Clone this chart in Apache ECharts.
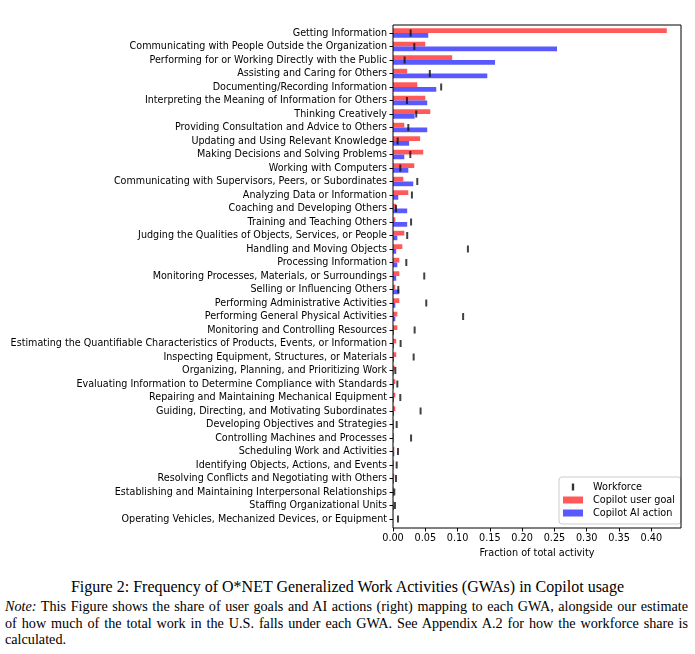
<!DOCTYPE html>
<html><head><meta charset="utf-8">
<script src="https://cdn.jsdelivr.net/npm/echarts@6/dist/echarts.min.js"></script>
<style>
html,body{margin:0;padding:0;background:#fff;width:695px;height:654px;overflow:hidden;}
#chart{position:absolute;left:0;top:0;width:695px;height:570px;}
.cap{position:absolute;font-family:"Liberation Serif","DejaVu Serif",serif;color:#000;}
#title{left:0;width:695px;top:578px;text-align:center;font-size:16px;}
.nl{left:5px;width:683px;font-size:14.2px;text-align:justify;text-align-last:justify;white-space:nowrap;}
</style></head>
<body>
<div id="chart"></div>
<div class="cap" id="title">Figure 2: Frequency of O*NET Generalized Work Activities (GWAs) in Copilot usage</div>
<div class="cap nl" style="top:598px;"><i>Note:</i> This Figure shows the share of user goals and AI actions (right) mapping to each GWA, alongside our estimate</div>
<div class="cap nl" style="top:615px;">of how much of the total work in the U.S. falls under each GWA. See Appendix A.2 for how the workforce share is</div>
<div class="cap nl" style="top:631px;text-align-last:left;">calculated.</div>
<script>
const categories = [
"Getting Information",
"Communicating with People Outside the Organization",
"Performing for or Working Directly with the Public",
"Assisting and Caring for Others",
"Documenting/Recording Information",
"Interpreting the Meaning of Information for Others",
"Thinking Creatively",
"Providing Consultation and Advice to Others",
"Updating and Using Relevant Knowledge",
"Making Decisions and Solving Problems",
"Working with Computers",
"Communicating with Supervisors, Peers, or Subordinates",
"Analyzing Data or Information",
"Coaching and Developing Others",
"Training and Teaching Others",
"Judging the Qualities of Objects, Services, or People",
"Handling and Moving Objects",
"Processing Information",
"Monitoring Processes, Materials, or Surroundings",
"Selling or Influencing Others",
"Performing Administrative Activities",
"Performing General Physical Activities",
"Monitoring and Controlling Resources",
"Estimating the Quantifiable Characteristics of Products, Events, or Information",
"Inspecting Equipment, Structures, or Materials",
"Organizing, Planning, and Prioritizing Work",
"Evaluating Information to Determine Compliance with Standards",
"Repairing and Maintaining Mechanical Equipment",
"Guiding, Directing, and Motivating Subordinates",
"Developing Objectives and Strategies",
"Controlling Machines and Processes",
"Scheduling Work and Activities",
"Identifying Objects, Actions, and Events",
"Resolving Conflicts and Negotiating with Others",
"Establishing and Maintaining Interpersonal Relationships",
"Staffing Organizational Units",
"Operating Vehicles, Mechanized Devices, or Equipment"
];
const userGoal = [0.424, 0.050, 0.0916, 0.022, 0.0376, 0.050, 0.0577, 0.0175, 0.042, 0.0468, 0.033, 0.016, 0.0237, 0.005, 0.0036, 0.0175, 0.0144, 0.0098, 0.0098, 0.0036, 0.0098, 0.0067, 0.0067, 0.005, 0.005, 0.0026, 0.0036, 0.0036, 0.0036, 0.0015, 0.0015, 0.002, 0.0015, 0.002, 0.001, 0.001, 0.0003];
const aiAction = [0.0546, 0.254, 0.158, 0.146, 0.067, 0.053, 0.0335, 0.053, 0.025, 0.0175, 0.0237, 0.0314, 0.0082, 0.022, 0.022, 0.0067, 0.005, 0.0067, 0.005, 0.0098, 0.0036, 0.0036, 0.0015, 0.0015, 0.0015, 0.001, 0.0015, 0.0015, 0.0015, 0.0015, 0.001, 0.002, 0.001, 0.0015, 0.001, 0.0015, 0.0003];
const workforce = [0.0273, 0.033, 0.018, 0.057, 0.0746, 0.0216, 0.036, 0.0237, 0.0072, 0.0268, 0.0113, 0.0376, 0.0293, 0.0046, 0.028, 0.022, 0.116, 0.0206, 0.0484, 0.0082, 0.0515, 0.1086, 0.0335, 0.0118, 0.032, 0.0036, 0.0067, 0.0113, 0.0427, 0.0057, 0.028, 0.0077, 0.0057, 0.0046, 0.002, 0.003, 0.0077];
const xTicks = [0, 0.05, 0.10, 0.15, 0.20, 0.25, 0.30, 0.35, 0.40];

const RED = 'rgb(255,89,89)', BLUE = 'rgb(89,89,255)';
const FONT = 'DejaVu Sans';
// frame box (matplotlib axes) vs. category band area
const BOX = {l: 393, t: 25, r: 681, b: 528};
const BAND_TOP = 26.25, BAND_H = 499.5;
const chart = echarts.init(document.getElementById('chart'), null, {renderer: 'canvas'});
chart.setOption({
  animation: false,
  textStyle: {fontFamily: FONT},
  grid: {left: BOX.l, top: BAND_TOP, width: BOX.r - BOX.l, height: BAND_H, show: false},
  graphic: [{
    type: 'rect', z: 10, silent: true,
    shape: {x: BOX.l, y: BOX.t, width: BOX.r - BOX.l, height: BOX.b - BOX.t},
    style: {fill: null, stroke: '#000', lineWidth: 1}
  }],
  xAxis: {
    type: 'value', min: 0, max: 0.446, interval: 0.05,
    offset: BOX.b - (BAND_TOP + BAND_H),
    name: 'Fraction of total activity', nameLocation: 'middle', nameGap: 20,
    nameTextStyle: {fontSize: 9.7, color: '#000', fontFamily: FONT},
    axisLine: {show: false},
    axisTick: {show: true, length: 3.5, lineStyle: {color: '#000'}},
    splitLine: {show: false},
    axisLabel: {fontSize: 9.7, color: '#000', margin: 5, showMaxLabel: false,
      formatter: v => xTicks.some(t => Math.abs(t - v) < 1e-9) ? v.toFixed(2) : ''}
  },
  yAxis: {
    type: 'category', data: categories, inverse: true,
    axisLine: {show: false},
    axisTick: {show: true, alignWithLabel: true, length: 3.5, lineStyle: {color: '#000'}},
    axisLabel: {fontSize: 9.6, color: '#000', margin: 6, interval: 0}
  },
  legend: {
    orient: 'vertical', left: 559, top: 477, width: 118,
    backgroundColor: '#fff', borderColor: '#ccc', borderWidth: 1, borderRadius: 3,
    padding: [5, 6, 6, 4], itemWidth: 20, itemHeight: 7, itemGap: 3,
    textStyle: {fontSize: 9.7, color: '#000', fontFamily: FONT, padding: [0, 0, 0, 5]},
    data: [
      {name: 'Workforce', icon: 'path://M0,0 L1,0 L1,3 L0,3 Z', itemStyle: {color: '#000'}},
      {name: 'Copilot user goal', icon: 'rect'},
      {name: 'Copilot AI action', icon: 'rect'}
    ]
  },
  series: [
    {name: 'Copilot user goal', type: 'bar', data: userGoal, barWidth: '35%', barGap: '0%', itemStyle: {color: RED}, z: 2},
    {name: 'Copilot AI action', type: 'bar', data: aiAction, barWidth: '35%', barGap: '0%', itemStyle: {color: BLUE}, z: 2},
    {name: 'Workforce', type: 'scatter', data: workforce, symbol: 'rect', symbolSize: [2, 7], itemStyle: {color: '#111'}, z: 5}
  ]
});
</script>
</body></html>
